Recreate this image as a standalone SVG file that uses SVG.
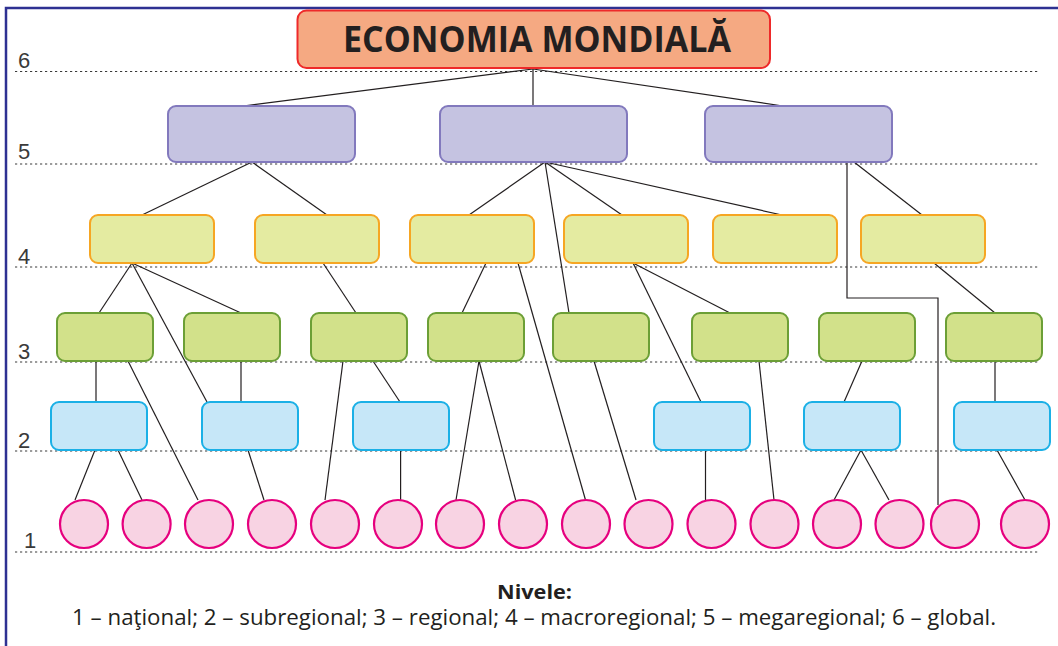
<svg xmlns="http://www.w3.org/2000/svg" width="1058" height="646" viewBox="0 0 1058 646">
<style>
.lvl{stroke:#3a3a3a;stroke-width:1.2;stroke-dasharray:2.2 2.8;fill:none}
.num{font-family:"Liberation Sans",Arial,sans-serif;font-size:22px;fill:#3a3a3a}
.c line,.c polyline{stroke:#231f20;stroke-width:1.2;fill:none}
.n6{fill:#f5a982;stroke:#ee2a2a;stroke-width:2}
.n5{fill:#c5c3e1;stroke:#8279bd;stroke-width:2}
.n4{fill:#e4eba1;stroke:#f6a623;stroke-width:2}
.n3{fill:#d2e18a;stroke:#6c9f36;stroke-width:2}
.n2{fill:#c6e7f8;stroke:#1bb0e6;stroke-width:2}
.n1{fill:#f8d3e3;stroke:#e6007e;stroke-width:2.2}
.t{font-family:"Open Sans","Noto Sans","Liberation Sans",sans-serif;fill:#231f20}
</style>
<rect width="1058" height="646" fill="#ffffff"/>
<!-- frame -->
<polyline points="6,646 6,8 1058,8" fill="none" stroke="#2e3192" stroke-width="2.5"/>
<!-- level guides -->
<g id="levels">
<line class="lvl" x1="15" y1="71.5" x2="1038" y2="71.5"/>
<line class="lvl" x1="15" y1="164" x2="1038" y2="164"/>
<line class="lvl" x1="15" y1="267" x2="1038" y2="267"/>
<line class="lvl" x1="15" y1="362" x2="1038" y2="362"/>
<line class="lvl" x1="15" y1="451" x2="1038" y2="451"/>
<line class="lvl" x1="15" y1="552" x2="1038" y2="552"/>
<text class="num" x="18" y="68">6</text>
<text class="num" x="18" y="159">5</text>
<text class="num" x="18" y="264">4</text>
<text class="num" x="18" y="359">3</text>
<text class="num" x="18" y="448">2</text>
<text class="num" x="24" y="548">1</text>
</g>
<!-- connectors -->
<g id="connectors" class="c">
<line x1="533" y1="69" x2="243" y2="106"/>
<line x1="533" y1="69" x2="533" y2="106"/>
<line x1="533" y1="69" x2="783" y2="106"/>
<line x1="252" y1="162" x2="142" y2="215"/>
<line x1="252" y1="162" x2="327" y2="215"/>
<line x1="545" y1="162" x2="469" y2="215"/>
<line x1="545" y1="162" x2="622" y2="215"/>
<line x1="545" y1="162" x2="782" y2="215"/>
<line x1="545" y1="162" x2="569" y2="313"/>
<polyline points="847,162 847,298 938,298 938,505"/>
<line x1="854" y1="162" x2="922" y2="215"/>
<line x1="132" y1="263" x2="99" y2="313"/>
<line x1="132" y1="263" x2="241" y2="313"/>
<line x1="132" y1="263" x2="207" y2="402"/>
<line x1="323" y1="263" x2="356" y2="313"/>
<line x1="486" y1="263" x2="462" y2="313"/>
<line x1="518" y1="263" x2="585.5" y2="500"/>
<line x1="633" y1="263" x2="730" y2="313"/>
<line x1="633" y1="263" x2="701" y2="402"/>
<line x1="934" y1="263" x2="995" y2="313"/>
<line x1="96" y1="361" x2="96" y2="402"/>
<line x1="128" y1="361" x2="198" y2="500"/>
<line x1="241" y1="361" x2="241" y2="402"/>
<line x1="343" y1="361" x2="325" y2="500"/>
<line x1="373" y1="361" x2="400" y2="402"/>
<line x1="479" y1="361" x2="456" y2="500"/>
<line x1="479" y1="361" x2="515.6" y2="500"/>
<line x1="594" y1="361" x2="636" y2="500"/>
<line x1="759" y1="361" x2="774" y2="500"/>
<line x1="862" y1="361" x2="844" y2="402"/>
<line x1="995" y1="361" x2="995" y2="402"/>
<line x1="95" y1="450" x2="75" y2="500"/>
<line x1="118" y1="450" x2="142" y2="500"/>
<line x1="248" y1="450" x2="264" y2="500"/>
<line x1="400.6" y1="450" x2="400.6" y2="500"/>
<line x1="705.5" y1="450" x2="705.5" y2="500"/>
<line x1="861" y1="450" x2="834" y2="500"/>
<line x1="861" y1="450" x2="889" y2="500"/>
<line x1="997" y1="450" x2="1025" y2="500"/>
</g>
<!-- level 6 -->
<g id="global">
<rect class="n6" x="297.5" y="10.5" width="472.5" height="57.5" rx="9"/>
<text class="t" x="343" y="52" font-size="35" font-weight="bold" textLength="388" lengthAdjust="spacingAndGlyphs">ECONOMIA  MONDIALĂ</text>
</g>
<!-- level 5 -->
<g id="megaregional-1"><rect class="n5" x="168" y="106" width="187" height="56" rx="8"/></g>
<g id="megaregional-2"><rect class="n5" x="440" y="106" width="187" height="56" rx="8"/></g>
<g id="megaregional-3"><rect class="n5" x="705" y="106" width="187" height="56" rx="8"/></g>
<!-- level 4 -->
<g id="macroregional-1"><rect class="n4" x="90" y="215" width="124" height="48" rx="8"/></g>
<g id="macroregional-2"><rect class="n4" x="255" y="215" width="124" height="48" rx="8"/></g>
<g id="macroregional-3"><rect class="n4" x="410" y="215" width="124" height="48" rx="8"/></g>
<g id="macroregional-4"><rect class="n4" x="564" y="215" width="124" height="48" rx="8"/></g>
<g id="macroregional-5"><rect class="n4" x="713" y="215" width="124" height="48" rx="8"/></g>
<g id="macroregional-6"><rect class="n4" x="861" y="215" width="124" height="48" rx="8"/></g>
<!-- level 3 -->
<g id="regional-1"><rect class="n3" x="57" y="313" width="96" height="48" rx="8"/></g>
<g id="regional-2"><rect class="n3" x="184" y="313" width="96" height="48" rx="8"/></g>
<g id="regional-3"><rect class="n3" x="311" y="313" width="96" height="48" rx="8"/></g>
<g id="regional-4"><rect class="n3" x="428" y="313" width="96" height="48" rx="8"/></g>
<g id="regional-5"><rect class="n3" x="553" y="313" width="96" height="48" rx="8"/></g>
<g id="regional-6"><rect class="n3" x="692" y="313" width="96" height="48" rx="8"/></g>
<g id="regional-7"><rect class="n3" x="819" y="313" width="96" height="48" rx="8"/></g>
<g id="regional-8"><rect class="n3" x="946" y="313" width="96" height="48" rx="8"/></g>
<!-- level 2 -->
<g id="subregional-1"><rect class="n2" x="51" y="402" width="96" height="48" rx="8"/></g>
<g id="subregional-2"><rect class="n2" x="202" y="402" width="96" height="48" rx="8"/></g>
<g id="subregional-3"><rect class="n2" x="353" y="402" width="96" height="48" rx="8"/></g>
<g id="subregional-4"><rect class="n2" x="654" y="402" width="96" height="48" rx="8"/></g>
<g id="subregional-5"><rect class="n2" x="804" y="402" width="96" height="48" rx="8"/></g>
<g id="subregional-6"><rect class="n2" x="954" y="402" width="96" height="48" rx="8"/></g>
<!-- level 1 -->
<g id="national-1"><circle class="n1" cx="84" cy="524" r="24"/></g>
<g id="national-2"><circle class="n1" cx="146.6" cy="524" r="24"/></g>
<g id="national-3"><circle class="n1" cx="209" cy="524" r="24"/></g>
<g id="national-4"><circle class="n1" cx="272" cy="524" r="24"/></g>
<g id="national-5"><circle class="n1" cx="335" cy="524" r="24"/></g>
<g id="national-6"><circle class="n1" cx="398" cy="524" r="24"/></g>
<g id="national-7"><circle class="n1" cx="460" cy="524" r="24"/></g>
<g id="national-8"><circle class="n1" cx="523" cy="524" r="24"/></g>
<g id="national-9"><circle class="n1" cx="586" cy="524" r="24"/></g>
<g id="national-10"><circle class="n1" cx="648.5" cy="524" r="24"/></g>
<g id="national-11"><circle class="n1" cx="711.5" cy="524" r="24"/></g>
<g id="national-12"><circle class="n1" cx="774.5" cy="524" r="24"/></g>
<g id="national-13"><circle class="n1" cx="837" cy="524" r="24"/></g>
<g id="national-14"><circle class="n1" cx="899.5" cy="524" r="24"/></g>
<g id="national-15"><circle class="n1" cx="955" cy="524" r="24"/></g>
<g id="national-16"><circle class="n1" cx="1025" cy="524" r="24"/></g>
<!-- legend -->
<g id="legend">
<text class="t" x="497" y="599" font-size="20" font-weight="bold" textLength="75" lengthAdjust="spacingAndGlyphs">Nivele:</text>
<text class="t" x="72" y="625" font-size="21" textLength="924" lengthAdjust="spacingAndGlyphs">1 – naţional; 2 – subregional; 3 – regional;  4 – macroregional; 5 – megaregional; 6 – global.</text>
</g>
</svg>
